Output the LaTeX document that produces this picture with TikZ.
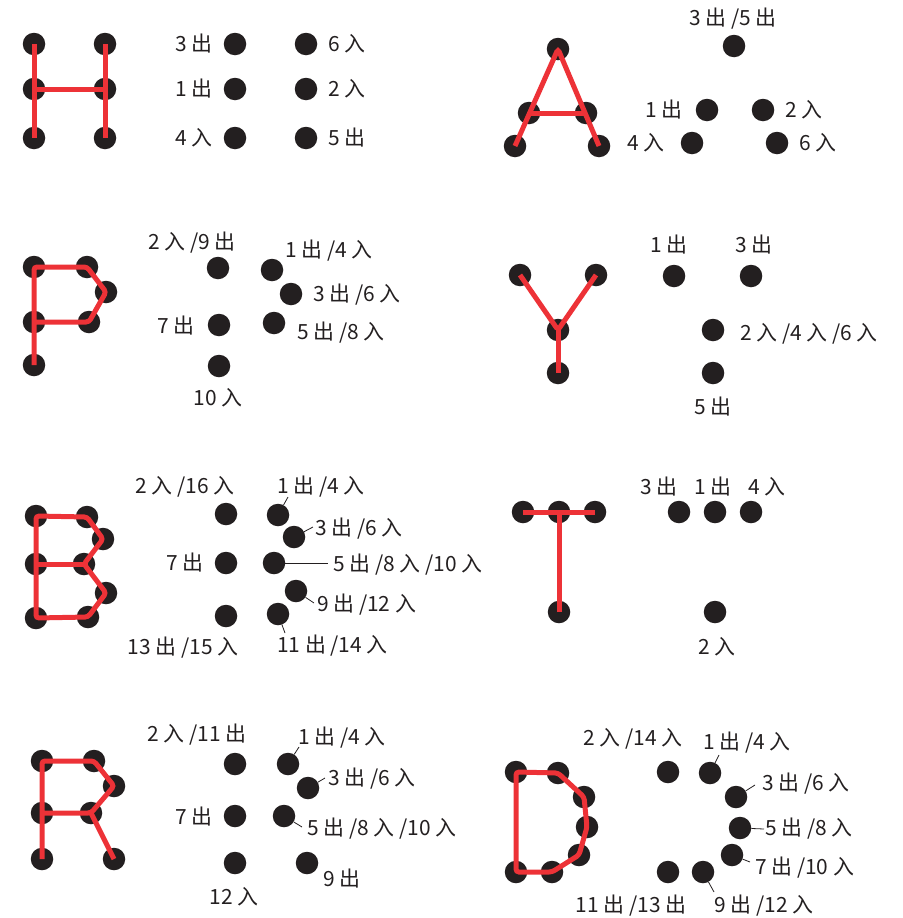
\documentclass[tikz,border=0pt]{standalone}
\usepackage{fontspec}
\setmainfont{Noto Sans CJK SC}
\usepackage{tikz}
\definecolor{ink}{RGB}{35,31,32}
\definecolor{letterred}{RGB}{237,50,55}

\begin{document}
\begin{tikzpicture}[
  x=1bp, y=-1bp,
  pin/.style={circle, fill=ink, minimum size=22.5bp, inner sep=0pt},
  trace/.style={draw=letterred, line width=5bp, rounded corners=3bp},
  lbl/.style={font=\fontsize{21}{25}\selectfont, text=ink, inner sep=0pt,
    text height=15bp, text depth=0bp},
  lead/.style={draw=ink, line width=0.8bp}
]
  \useasboundingbox (0,0) rectangle (903,918);

  % H: letra
  \node[pin] (hs1) at (34,44) {};
  \node[pin] (hs2) at (105,44) {};
  \node[pin] (hs3) at (34,89) {};
  \node[pin] (hs4) at (105,89) {};
  \node[pin] (hs5) at (34,138) {};
  \node[pin] (hs6) at (105,138) {};
  \draw[trace] (hs1.center) -- (hs5.center);
  \draw[trace] (hs2.center) -- (hs6.center);
  \draw[trace] (hs3.center) -- (hs4.center);

  % H: ordem dos pinos
  \node[pin] (hd1) at (235,44) {};
  \node[pin] (hd2) at (306,44) {};
  \node[pin] (hd3) at (235,89) {};
  \node[pin] (hd4) at (306,89) {};
  \node[pin] (hd5) at (235,138) {};
  \node[pin] (hd6) at (306,138) {};
  \node[lbl, anchor=east] (hl1) at (213,44) {3 出};
  \node[lbl, anchor=west] (hl2) at (328,44) {6 入};
  \node[lbl, anchor=east] (hl3) at (213,89) {1 出};
  \node[lbl, anchor=west] (hl4) at (328,89) {2 入};
  \node[lbl, anchor=east] (hl5) at (213,138) {4 入};
  \node[lbl, anchor=west] (hl6) at (328,138) {5 出};

  % A: letra
  \node[pin] (as1) at (558,49) {};
  \node[pin] (as2) at (529,113) {};
  \node[pin] (as3) at (586,113) {};
  \node[pin] (as4) at (515,146) {};
  \node[pin] (as5) at (599,146) {};
  \draw[trace] (as4.center) -- (as1.center) -- (as5.center);
  \draw[trace] (as2.center) -- (as3.center);

  % A: ordem dos pinos
  \node[pin] (ad1) at (734,46) {};
  \node[pin] (ad2) at (707,110) {};
  \node[pin] (ad3) at (763,110) {};
  \node[pin] (ad4) at (692,143) {};
  \node[pin] (ad5) at (777,143) {};
  \node[lbl] (al1) at (733,18) {3 出 /5 出};
  \node[lbl, anchor=east] (al2) at (683,110) {1 出};
  \node[lbl, anchor=west] (al3) at (785,110) {2 入};
  \node[lbl, anchor=east] (al4) at (665,143) {4 入};
  \node[lbl, anchor=west] (al5) at (799,143) {6 入};

  % P: letra
  \node[pin] (ps1) at (34,267) {};
  \node[pin] (ps2) at (87,267) {};
  \node[pin] (ps3) at (106,292) {};
  \node[pin] (ps4) at (34,322) {};
  \node[pin] (ps5) at (89,322) {};
  \node[pin] (ps6) at (34,365) {};
  \draw[trace] (ps6.center) -- (ps1.center) -- (ps2.center) -- (ps3.center)
    -- (ps5.center) -- (ps4.center);

  % P: ordem dos pinos
  \node[pin] (pd1) at (218,268) {};
  \node[pin] (pd2) at (272,270) {};
  \node[pin] (pd3) at (291,294) {};
  \node[pin] (pd4) at (219,325) {};
  \node[pin] (pd5) at (274,323) {};
  \node[pin] (pd6) at (219,366) {};
  \node[lbl] (pl1) at (192,242) {2 入 /9 出};
  \node[lbl, anchor=west] (pl2) at (285,250) {1 出 /4 入};
  \node[lbl, anchor=west] (pl3) at (313,294) {3 出 /6 入};
  \node[lbl, anchor=east] (pl4) at (195,326) {7 出};
  \node[lbl, anchor=west] (pl5) at (297,332) {5 出 /8 入};
  \node[lbl] (pl6) at (218,398) {10 入};

  % Y: letra
  \node[pin] (ys1) at (520,275) {};
  \node[pin] (ys2) at (596,275) {};
  \node[pin] (ys3) at (558,330) {};
  \node[pin] (ys4) at (558,373) {};
  \draw[trace] (ys1.center) -- (ys3.center) -- (ys2.center);
  \draw[trace] (ys3.center) -- (ys4.center);

  % Y: ordem dos pinos
  \node[pin] (yd1) at (674,276) {};
  \node[pin] (yd2) at (751,276) {};
  \node[pin] (yd3) at (713,330) {};
  \node[pin] (yd4) at (713,373) {};
  \node[lbl] (yl1) at (669,245) {1 出};
  \node[lbl] (yl2) at (754,245) {3 出};
  \node[lbl, anchor=west] (yl3) at (740,333) {2 入 /4 入 /6 入};
  \node[lbl] (yl4) at (713,407) {5 出};

  % B: letra
  \node[pin] (bs1) at (36,516) {};
  \node[pin] (bs2) at (87,517) {};
  \node[pin] (bs3) at (103,539) {};
  \node[pin] (bs4) at (36,564) {};
  \node[pin] (bs5) at (84,564) {};
  \node[pin] (bs6) at (106,593) {};
  \node[pin] (bs7) at (36,618) {};
  \node[pin] (bs8) at (88,617) {};
  \draw[trace] (bs1.center) -- (bs2.center) -- (bs3.center) -- (bs5.center)
    -- (bs6.center) -- (bs8.center) -- (bs7.center) -- cycle;
  \draw[trace] (bs4.center) -- (bs5.center);

  % B: ordem dos pinos (com linhas de chamada)
  \node[pin] (bd1) at (226,514) {};
  \node[pin] (bd2) at (278,515) {};
  \node[pin] (bd3) at (294,537) {};
  \node[pin] (bd4) at (226,563) {};
  \node[pin] (bd5) at (274,563) {};
  \node[pin] (bd6) at (296,591) {};
  \node[pin] (bd7) at (226,616) {};
  \node[pin] (bd8) at (278,614) {};
  \node[lbl] (bl1) at (185,486) {2 入 /16 入};
  \node[lbl, anchor=west] (bl2) at (277,486) {1 出 /4 入};
  \node[lbl, anchor=west] (bl3) at (315,528) {3 出 /6 入};
  \node[lbl, anchor=east] (bl4) at (204,563) {7 出};
  \node[lbl, anchor=west] (bl5) at (333,564) {5 出 /8 入 /10 入};
  \node[lbl, anchor=west] (bl6) at (317,604) {9 出 /12 入};
  \node[lbl] (bl7) at (183,647) {13 出 /15 入};
  \node[lbl, anchor=west] (bl8) at (277,645) {11 出 /14 入};
  \coordinate (bt2) at (288,497);
  \coordinate (bt3) at (313,527);
  \coordinate (bt5) at (328,563);
  \coordinate (bt6) at (314,603);
  \coordinate (bt8) at (285,633);
  \draw[lead] (bd2) -- (bt2);
  \draw[lead] (bd3) -- (bt3);
  \draw[lead] (bd5) -- (bt5);
  \draw[lead] (bd6) -- (bt6);
  \draw[lead] (bd8) -- (bt8);

  % T: letra
  \node[pin] (ts1) at (523,512) {};
  \node[pin] (ts2) at (559,512) {};
  \node[pin] (ts3) at (595,512) {};
  \node[pin] (ts4) at (559,612) {};
  \draw[trace] (ts1.center) -- (ts3.center);
  \draw[trace] (ts2.center) -- (ts4.center);

  % T: ordem dos pinos
  \node[pin] (td1) at (679,512) {};
  \node[pin] (td2) at (715,512) {};
  \node[pin] (td3) at (751,512) {};
  \node[pin] (td4) at (715,612) {};
  \node[lbl] (tl1) at (659,487) {3 出};
  \node[lbl] (tl2) at (713,487) {1 出};
  \node[lbl] (tl3) at (767,487) {4 入};
  \node[lbl] (tl4) at (717,647) {2 入};

  % R: letra
  \node[pin] (rs1) at (42,761) {};
  \node[pin] (rs2) at (94,761) {};
  \node[pin] (rs3) at (114,786) {};
  \node[pin] (rs4) at (42,813) {};
  \node[pin] (rs5) at (91,813) {};
  \node[pin] (rs6) at (42,859) {};
  \node[pin] (rs7) at (114,859) {};
  \draw[trace] (rs6.center) -- (rs1.center) -- (rs2.center) -- (rs3.center)
    -- (rs5.center) -- (rs4.center);
  \draw[trace] (rs5.center) -- (rs7.center);

  % R: ordem dos pinos
  \node[pin] (rd1) at (235,764) {};
  \node[pin] (rd2) at (288,764) {};
  \node[pin] (rd3) at (308,788) {};
  \node[pin] (rd4) at (235,816) {};
  \node[pin] (rd5) at (284,816) {};
  \node[pin] (rd6) at (235,863) {};
  \node[pin] (rd7) at (307,863) {};
  \node[lbl] (rl1) at (197,734) {2 入 /11 出};
  \node[lbl, anchor=west] (rl2) at (298,737) {1 出 /4 入};
  \node[lbl, anchor=west] (rl3) at (328,778) {3 出 /6 入};
  \node[lbl, anchor=east] (rl4) at (213,817) {7 出};
  \node[lbl, anchor=west] (rl5) at (307,828) {5 出 /8 入 /10 入};
  \node[lbl] (rl6) at (234,897) {12 入};
  \node[lbl, anchor=west] (rl7) at (323,879) {9 出};
  \coordinate (rt2) at (299,747);
  \coordinate (rt3) at (325,778);
  \coordinate (rt5) at (302,827);
  \draw[lead] (rd2) -- (rt2);
  \draw[lead] (rd3) -- (rt3);
  \draw[lead] (rd5) -- (rt5);

  % D: letra
  \node[pin] (ds1) at (516,772) {};
  \node[pin] (ds2) at (558,773) {};
  \node[pin] (ds3) at (584,797) {};
  \node[pin] (ds4) at (587,827) {};
  \node[pin] (ds5) at (579,855) {};
  \node[pin] (ds6) at (516,872) {};
  \node[pin] (ds7) at (552,872) {};
  \draw[trace] (ds1.center) -- (ds2.center) -- (ds3.center) -- (ds4.center)
    -- (ds5.center) -- (ds7.center) -- (ds6.center) -- cycle;

  % D: ordem dos pinos
  \node[pin] (dd1) at (668,772) {};
  \node[pin] (dd2) at (710,773) {};
  \node[pin] (dd3) at (736,797) {};
  \node[pin] (dd4) at (740,828) {};
  \node[pin] (dd5) at (732,855) {};
  \node[pin] (dd6) at (668,872) {};
  \node[pin] (dd7) at (703,872) {};
  \node[lbl] (dl1) at (633,738) {2 入 /14 入};
  \node[lbl] (dl2) at (747,742) {1 出 /4 入};
  \node[lbl, anchor=west] (dl3) at (762,783) {3 出 /6 入};
  \node[lbl, anchor=west] (dl4) at (765,828) {5 出 /8 入};
  \node[lbl, anchor=west] (dl5) at (755,867) {7 出 /10 入};
  \node[lbl] (dl6) at (631,905) {11 出 /13 出};
  \node[lbl] (dl7) at (764,905) {9 出 /12 入};
  \coordinate (dt2) at (719,755);
  \coordinate (dt3) at (755,785);
  \coordinate (dt4) at (764,829);
  \coordinate (dt5) at (750,862);
  \coordinate (dt7) at (714,892);
  \draw[lead] (dd2) -- (dt2);
  \draw[lead] (dd3) -- (dt3);
  \draw[lead] (dd4) -- (dt4);
  \draw[lead] (dd5) -- (dt5);
  \draw[lead] (dd7) -- (dt7);
\end{tikzpicture}
\end{document}
